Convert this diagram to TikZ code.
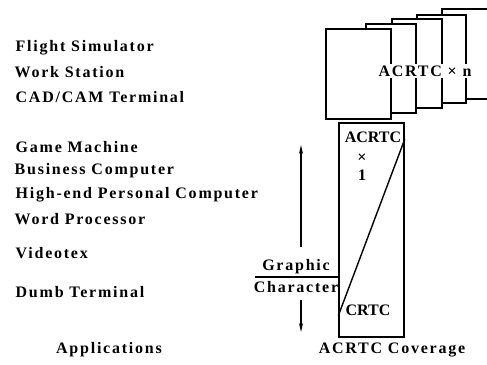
\documentclass[tikz,border=0pt]{standalone}
\usepackage{fontspec}
\setmainfont{Liberation Serif}[LetterSpace=11]
\newfontfamily\boxfont{Liberation Serif}
\usetikzlibrary{arrows.meta}

\tikzset{
  app/.style={anchor=west,inner sep=0pt,font=\bfseries\fontsize{16}{18}\selectfont},
  lbl/.style={inner sep=0pt,font=\bfseries\fontsize{16}{18}\selectfont},
  inbox/.style={inner sep=0pt,font=\boxfont\bfseries\fontsize{16}{18}\selectfont},
  card/.style={draw,fill=white},
}

\begin{document}
\begin{tikzpicture}[x=1pt,y=-1pt,line width=1.4pt]
\useasboundingbox (0,0) rectangle (487,364);

% Applications
\node[app] (fs)  at (15,48)  {Flight Simulator};
\node[app] (ws)  at (14,72)  {Work Station};
\node[app] (cad) at (15,97)  {CAD/CAM Terminal};
\node[app] (gm)  at (15,147) {Game Machine};
\node[app] (bc)  at (14,171) {Business Computer};
\node[app] (hpc) at (15,195) {High-end Personal Computer};
\node[app] (wp)  at (14,219) {Word Processor};
\node[app] (vt)  at (15,253) {Videotex};
\node[app] (dt)  at (15,292) {Dumb Terminal};
\node[lbl] (apps) at (109,350) {Applications};

% Stacked ACRTCs
\draw[card] (442,9)  rectangle (495,99);
\draw[card] (417,15) rectangle (466,103);
\draw[card] (392,19) rectangle (442,108);
\draw[card] (366,24) rectangle (416,113);
\draw[card] (326,29) rectangle (391,119);
\node[lbl,fill=white,inner xsep=1pt,inner ysep=2pt] (multi) at (425,71) {ACRTC × n};

% Single ACRTC
\node[draw,minimum width=65pt,minimum height=214pt,inner sep=0pt] (cov) at (371.5,230) {};
\draw ([yshift=22pt]cov.south west) -- ([yshift=-17pt]cov.north east);
\node[inbox] (one) at (373,137) {ACRTC};
\node[inbox] (times) at (362,158) {×};
\node[inbox] (num) at (362,175) {1};
\node[inbox] (crtc) at (368,310) {CRTC};
\node[lbl] (covl) at (392,350) {ACRTC Coverage};

% Graphic / Character
\node[lbl] (gfx) at (296,267) {Graphic};
\node[lbl] (chr) at (296,287) {Character};
\coordinate (fracL) at (255,277);
\draw (fracL) -- (fracL -| cov.west);

\coordinate (upS) at (301,247);
\coordinate (upE) at (301,145);
\coordinate (dnS) at (301,300);
\coordinate (dnE) at (301,332);
\draw[-{Stealth[length=9pt,width=4pt]}] (upS) -- (upE);
\draw[-{Stealth[length=9pt,width=4pt]}] (dnS) -- (dnE);

\end{tikzpicture}
\end{document}
